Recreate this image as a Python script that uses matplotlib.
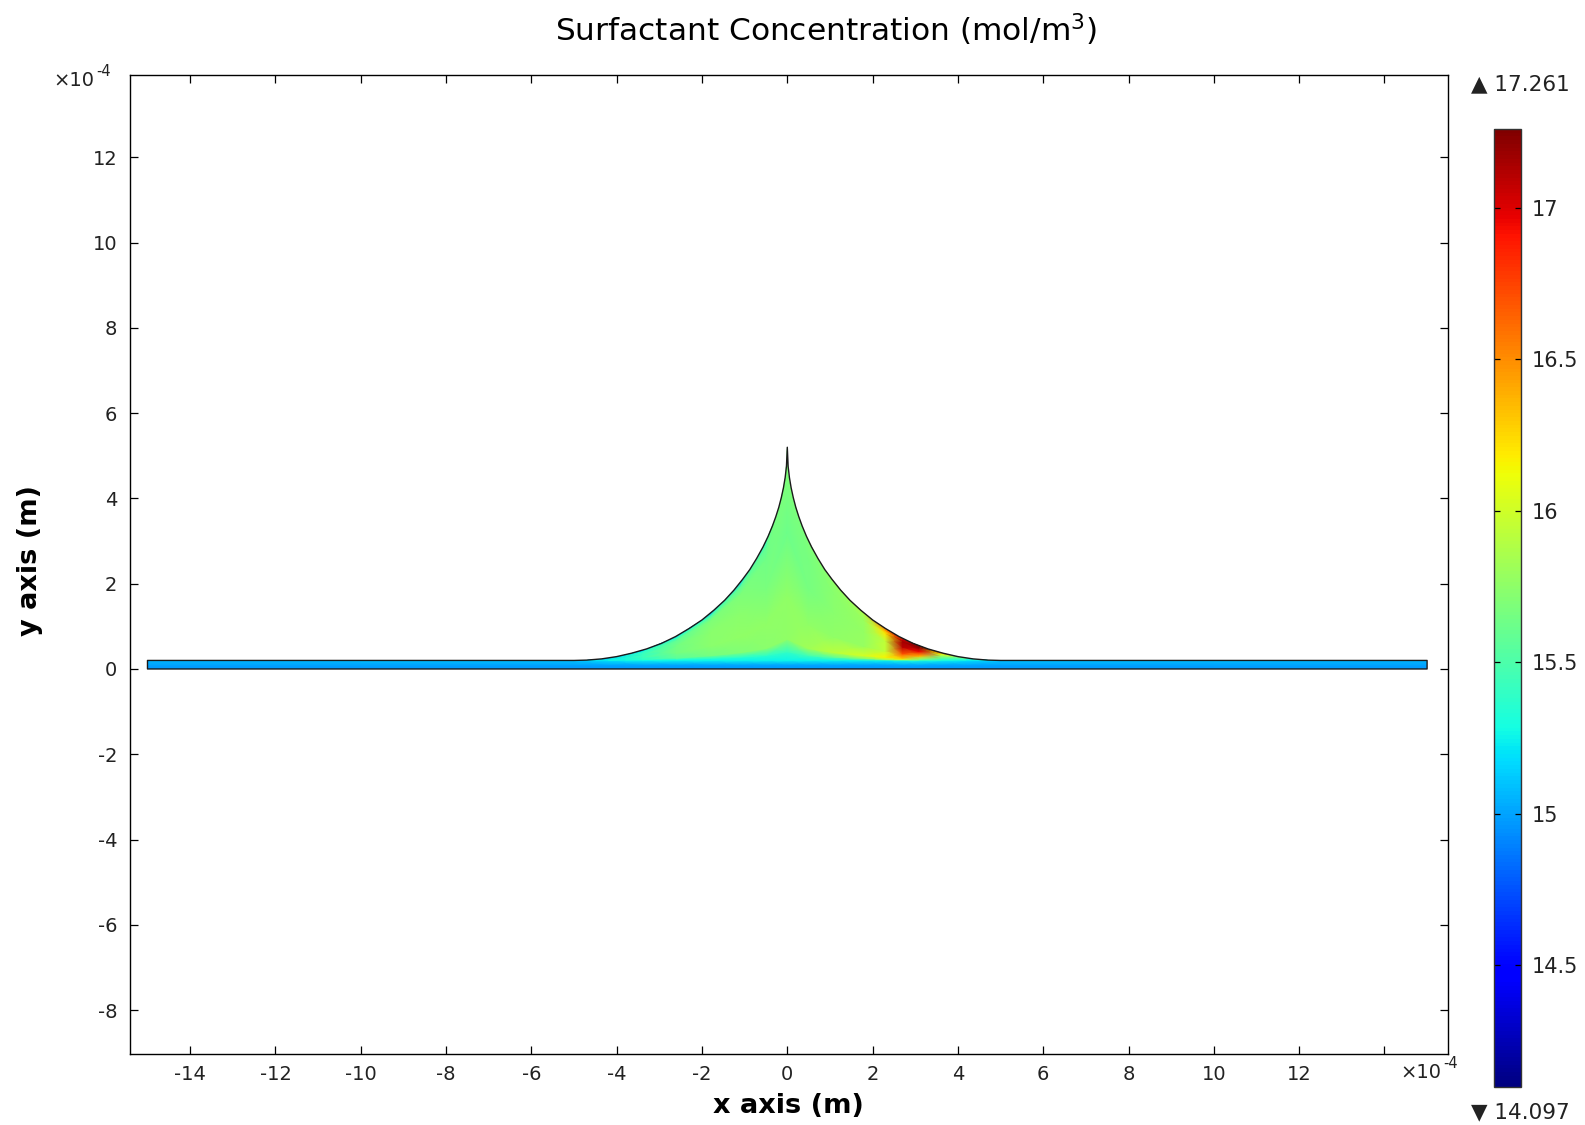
import numpy as np
import matplotlib
matplotlib.use("Agg")
import matplotlib.pyplot as plt
from matplotlib.patches import Polygon

plt.rcParams["font.family"] = "DejaVu Sans"
plt.rcParams["axes.unicode_minus"] = False
plt.rcParams["mathtext.fontset"] = "dejavusans"

# all lengths in units of 1e-4 m
# meniscus half-profile (mirrored for x < 0)
PROFILE_X = [0.0, 0.02, 0.05, 0.09, 0.14, 0.2, 0.27, 0.35, 0.45, 0.57, 0.72, 0.88, 1.05,
             1.25, 1.47, 1.72, 2.0, 2.3, 2.62, 2.95, 3.3, 3.65, 4.0, 4.35, 4.7, 5.0]
PROFILE_H = [5.2, 4.75, 4.49, 4.25, 4.02, 3.79, 3.57, 3.35, 3.11, 2.86, 2.59, 2.33, 2.10,
             1.85, 1.61, 1.38, 1.15, 0.95, 0.76, 0.60, 0.47, 0.37, 0.29, 0.237, 0.208, 0.2]
FILM_HALF_WIDTH = 15.0
FILM_THICKNESS = 0.2

# concentration (mol/m^3) sampled on a grid that follows the domain:
# two rows inside the film, then rows at a fraction of the meniscus height
FIELD_X = [-15.0, -5.0, -4.2, -3.4, -2.6, -1.8, -1.1, -0.5, 0.0, 0.5,
           1.1, 1.8, 2.3, 2.7, 3.1, 3.6, 4.2, 5.0, 15.0]
FILM_Y = [0.0, 0.1]
FIELD_S = [0.0, 0.04, 0.1, 0.3, 0.6, 0.85, 0.95, 1.0]

C_FILM_0 = [14.95, 14.95, 14.95, 14.95, 14.95, 14.95, 14.95, 14.95, 14.95, 14.95,
            14.95, 14.95, 14.95, 14.95, 14.95, 14.95, 14.95, 14.95, 14.95]
C_FILM_1 = [15.0, 15.0, 15.02, 15.02, 15.02, 15.02, 15.02, 15.02, 15.02, 15.02,
            15.02, 15.02, 15.02, 15.03, 15.03, 15.02, 15.02, 15.0, 15.0]
C_S000 = [15.05, 15.1, 15.2, 15.25, 15.25, 15.25, 15.25, 15.25, 15.25, 15.25,
          15.25, 15.25, 15.25, 15.3, 15.3, 15.25, 15.2, 15.1, 15.05]
C_S004 = [15.05, 15.1, 15.22, 15.28, 15.32, 15.34, 15.36, 15.38, 15.4, 15.45,
          15.55, 15.7, 15.9, 16.0, 15.5, 15.3, 15.22, 15.1, 15.05]
C_S010 = [15.05, 15.1, 15.25, 15.38, 15.55, 15.65, 15.7, 15.74, 15.76, 15.82,
          15.92, 16.02, 16.15, 16.3, 15.75, 15.38, 15.25, 15.1, 15.05]
C_S030 = [15.05, 15.1, 15.25, 15.42, 15.65, 15.74, 15.76, 15.76, 15.76, 15.76,
          15.76, 15.78, 15.95, 16.7, 16.35, 15.55, 15.3, 15.1, 15.05]
C_S060 = [15.05, 15.1, 15.22, 15.42, 15.65, 15.74, 15.73, 15.67, 15.62, 15.66,
          15.73, 15.77, 15.95, 17.1, 16.95, 15.85, 15.35, 15.1, 15.05]
C_S085 = [15.05, 15.1, 15.18, 15.38, 15.56, 15.68, 15.68, 15.63, 15.68, 15.66,
          15.73, 15.8, 16.2, 17.15, 17.22, 16.15, 15.45, 15.1, 15.05]
C_S095 = [15.05, 15.1, 15.05, 15.2, 15.35, 15.45, 15.55, 15.58, 15.7, 15.68,
          15.75, 15.85, 16.45, 17.05, 17.26, 16.35, 15.5, 15.1, 15.05]
C_S100 = [15.05, 15.1, 14.95, 14.95, 14.98, 15.02, 15.15, 15.35, 15.7, 15.68,
          15.77, 15.9, 16.55, 16.95, 17.26, 16.35, 15.5, 15.1, 15.05]

C_MIN = 14.097
C_MAX = 17.261
CBAR_TICKS = [14.5, 15, 15.5, 16, 16.5, 17]
CBAR_LABELS = ["14.5", "15", "15.5", "16", "16.5", "17"]
X_TICKS = list(range(-14, 15, 2))
Y_TICKS = list(range(-8, 13, 2))

W, H = 1585, 1125
fig = plt.figure(figsize=(W / 100, H / 100), dpi=100)
ax = fig.add_axes([130 / W, 1 - 1054 / H, 1318 / W, 979 / H])

# body-fitted grid
px = np.array(PROFILE_X)
ph = np.array(PROFILE_H)
fx = np.array(FIELD_X)
hcol = np.interp(np.abs(fx), px, ph)
rows_y = [np.full_like(fx, y) for y in FILM_Y]
rows_y += [FILM_THICKNESS + s * (hcol - FILM_THICKNESS) for s in FIELD_S]
Y = np.array(rows_y)
X = np.tile(fx, (Y.shape[0], 1))
C = np.array([C_FILM_0, C_FILM_1, C_S000, C_S004, C_S010, C_S030, C_S060,
              C_S085, C_S095, C_S100])

# domain outline
verts = [(-FILM_HALF_WIDTH, 0), (FILM_HALF_WIDTH, 0), (FILM_HALF_WIDTH, FILM_THICKNESS)]
verts += list(zip(px[::-1], ph[::-1]))
verts += list(zip(-px[1:], ph[1:]))
verts += [(-FILM_HALF_WIDTH, FILM_THICKNESS)]
outline = Polygon(verts, closed=True, facecolor="none", edgecolor="#1a1a1a",
                  lw=1.0, joinstyle="round", zorder=3)
ax.add_patch(outline)

mesh = ax.pcolormesh(X, Y, C, shading="gouraud", cmap="jet", vmin=C_MIN, vmax=C_MAX, zorder=2)
mesh.set_clip_path(outline)

ax.set_xlim(-15.41, 15.49)
ax.set_ylim(-9.03, 13.93)
ax.set_xticks(X_TICKS)
ax.set_xticklabels([str(t) if t != 14 else "" for t in X_TICKS])
ax.set_yticks(Y_TICKS)
ax.set_yticklabels([str(t) for t in Y_TICKS])
ax.tick_params(direction="in", top=True, right=True, length=6, width=0.9,
               labelsize=14, labelcolor="#222222")
ax.tick_params(axis="x", pad=8)
ax.tick_params(axis="y", pad=9)
for sp in ax.spines.values():
    sp.set_linewidth(1.0)

# x10^-4 multipliers
fig.text(1400 / W, 1 - 1073 / H, "\u00d710", fontsize=14, color="#222222", ha="left", va="center")
fig.text(1443 / W, 1 - 1064 / H, "-4", fontsize=10.5, color="#222222", ha="left", va="center")
fig.text(53 / W, 1 - 81 / H, "\u00d710", fontsize=14, color="#222222", ha="left", va="center")
fig.text(96 / W, 1 - 72 / H, "-4", fontsize=10.5, color="#222222", ha="left", va="center")

# titles and axis labels
fig.text(826 / W, 1 - 30 / H, "Surfactant Concentration (mol/m$^3$)", fontsize=22.5,
         ha="center", va="center")
fig.text(788 / W, 1 - 1106 / H, "x axis (m)", fontsize=19.5, weight="bold", ha="center", va="center")
fig.text(30 / W, 1 - 560 / H, "y axis (m)", fontsize=19.5, weight="bold", rotation=90,
         ha="center", va="center")

# colorbar
cax = fig.add_axes([1494 / W, 1 - 1087 / H, 27 / W, 958 / H])
cb = fig.colorbar(mesh, cax=cax, ticks=CBAR_TICKS)
cb.ax.set_yticklabels(CBAR_LABELS)
cb.ax.tick_params(direction="in", left=True, right=True, length=4, width=0.9,
                  labelsize=15, labelcolor="#222222", pad=8)
cb.outline.set_edgecolor("#333333")
cb.outline.set_linewidth(1.0)
fig.text(1471 / W, 1 - 84 / H, "\u25b2 17.261", fontsize=15.5, color="#222222", ha="left", va="center")
fig.text(1471 / W, 1 - 1112 / H, "\u25bc 14.097", fontsize=15.5, color="#222222", ha="left", va="center")

fig.savefig("out.png", dpi=100)
